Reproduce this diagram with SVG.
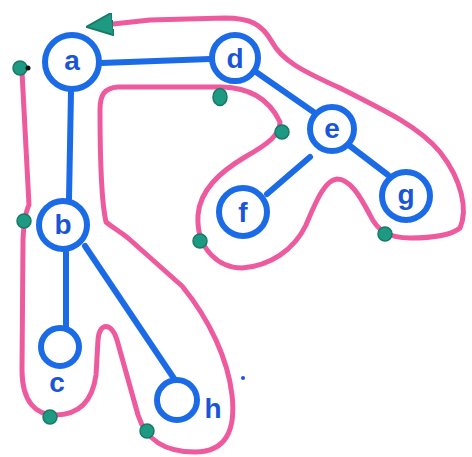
<svg xmlns="http://www.w3.org/2000/svg" width="472" height="457" viewBox="0 0 472 457">
<style>
.edge{stroke:#1c6be6;stroke-width:6;stroke-linecap:round;fill:none}
.node circle{fill:#fff;stroke:#1c6be6;stroke-width:6}
.node text{font-family:"Liberation Sans",Arial,sans-serif;font-weight:bold;font-size:28px;fill:#1a55d8;text-anchor:middle;dominant-baseline:central}
.tour{stroke:#ee5a9e;stroke-width:5;fill:none;stroke-linecap:round;stroke-linejoin:round}
.dot{fill:#1f9a82;stroke:#167a68;stroke-width:1.5}
</style>
<defs>
<marker id="arr" viewBox="0 0 10 10" refX="0" refY="5" markerWidth="5.4" markerHeight="4.6" orient="auto" markerUnits="strokeWidth" preserveAspectRatio="none">
<path d="M0,0 L10,5 L0,10 Z" fill="#1f9a82" stroke="#167a68" stroke-width="0.8"/>
</marker>
</defs>
<rect width="472" height="457" fill="#fff"/>
<g id="tour">
<path class="tour" marker-end="url(#arr)" d="M22,72 L29,205 Q24,215 23,240 L22,370 C22,402 36,415 55,415 C76,415 92,404 96,375 L98,340 C99,322 112,322 117,340 L138,415 C146,440 164,452 195,452 C226,452 236,430 232,395 C228,360 210,320 182,286 L128,238 C118,230 113,228 106,222 C101,200 100,150 100,110 C100,95 104,88 118,87 L222,87 C248,88 268,97 280,122 C280,135 268,144 245,157 C220,172 200,190 198,215 C196,250 220,268 242,268 C270,266 294,250 306,225 C318,196 326,180 337,179 C350,179 360,196 370,215 C378,232 390,238 410,238 C430,238 450,236 460,228 C468,210 462,180 440,152 C420,128 390,113 340,88 C300,70 282,60 272,42 C262,24 250,18 225,18 L150,20 L113,24"/>
</g>
<g id="connectors">
<line class="edge" x1="101" y1="63" x2="210" y2="59"/>
<line class="edge" x1="71" y1="92" x2="69" y2="199"/>
<line class="edge" x1="256" y1="72" x2="315" y2="113"/>
<line class="edge" x1="350" y1="146" x2="388" y2="175"/>
<line class="edge" x1="310" y1="157" x2="267" y2="194"/>
<line class="edge" x1="66" y1="252" x2="66" y2="326"/>
<line class="edge" x1="85" y1="246" x2="175" y2="380"/>
</g>
<g id="node-a" class="node"><circle cx="72" cy="62" r="27"/><text x="72" y="60">a</text></g>
<g id="node-d" class="node"><circle cx="235" cy="58" r="23"/><text x="235" y="58">d</text></g>
<g id="node-e" class="node"><circle cx="332" cy="129" r="22"/><text x="332" y="128">e</text></g>
<g id="node-f" class="node"><circle cx="243" cy="212" r="24"/><text x="243" y="212">f</text></g>
<g id="node-g" class="node"><circle cx="406" cy="196" r="24"/><text x="406" y="194">g</text></g>
<g id="node-b" class="node"><circle cx="63" cy="225" r="24"/><text x="63" y="224">b</text></g>
<g id="node-c" class="node"><circle cx="60" cy="347" r="19"/><text x="57" y="382">c</text></g>
<g id="node-h" class="node"><circle cx="177" cy="400" r="20"/><text x="213" y="408">h</text></g>
<g id="marks">
<circle class="dot" cx="20" cy="68" r="7"/>
<circle cx="28" cy="68" r="2.5" fill="#111"/>
<circle class="dot" cx="24" cy="221" r="7"/>
<circle class="dot" cx="50" cy="417" r="7"/>
<circle class="dot" cx="147" cy="431" r="7"/>
<circle class="dot" cx="200" cy="241" r="7"/>
<ellipse class="dot" cx="220" cy="97" rx="7" ry="8.5"/>
<circle class="dot" cx="282" cy="132" r="7"/>
<circle class="dot" cx="385" cy="234" r="7"/>
<circle cx="243" cy="378" r="2" fill="#1a55d8"/>
</g>
</svg>
